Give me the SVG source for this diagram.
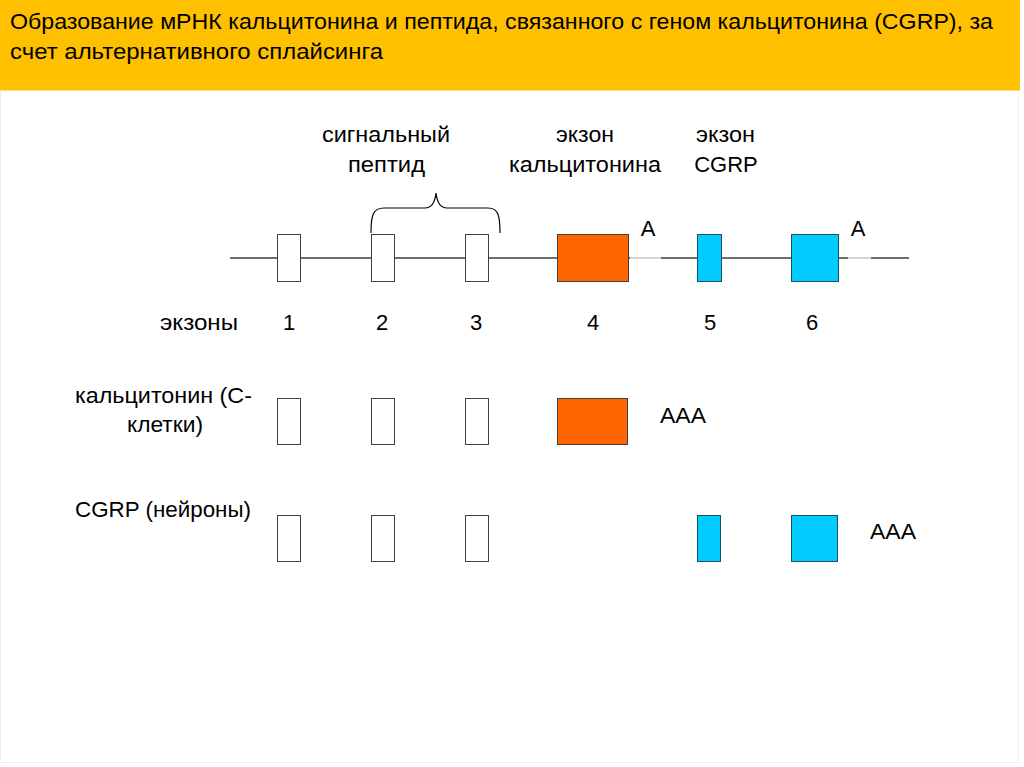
<svg xmlns="http://www.w3.org/2000/svg" width="1024" height="767" viewBox="0 0 1024 767">
<style>
.t{font-family:"Liberation Sans",Arial,sans-serif;font-size:22px;fill:#000}
.h{font-family:"Liberation Sans",Arial,sans-serif;font-size:22px;fill:#000}
.a{font-family:"Liberation Sans",Arial,sans-serif;font-size:22px;fill:#000}
.w{fill:#fff;stroke:#404040;stroke-width:1}
.o{fill:#ff6600;stroke:#404040;stroke-width:1}
.b{fill:#00ccff;stroke:#1f4f5f;stroke-width:1}
</style>
<rect x="0" y="0" width="1024" height="767" fill="#fff"/>
<rect x="0.5" y="0.5" width="1018" height="762" fill="none" stroke="#f0f0f0"/>
<g id="header">
<rect x="0" y="0" width="1020" height="90" fill="#ffc000"/>
<line x1="0" y1="90.5" x2="1020" y2="90.5" stroke="#ffe08a" stroke-width="1"/>
<text class="h" x="10" y="29" textLength="983" lengthAdjust="spacingAndGlyphs">Образование мРНК кальцитонина и пептида, связанного с геном кальцитонина (CGRP), за</text>
<text class="h" x="10" y="59" textLength="373" lengthAdjust="spacingAndGlyphs">счет альтернативного сплайсинга</text>
</g>
<g id="connectors">
<line x1="230" y1="258" x2="630" y2="258" stroke="#404040" stroke-width="1.5"/>
<line x1="630" y1="258" x2="661" y2="258" stroke="#c8c8c8" stroke-width="1.5"/>
<line x1="661" y1="258" x2="848" y2="258" stroke="#404040" stroke-width="1.5"/>
<line x1="848" y1="258" x2="871" y2="258" stroke="#c8c8c8" stroke-width="1.5"/>
<line x1="871" y1="258" x2="909" y2="258" stroke="#404040" stroke-width="1.5"/>
<path d="M371,233 C371,215 373,208 384,208 L425,208 C432,208 435,202 436,193 C437,202 440,208 447,208 L488,208 C498,208 500,215 500,233" fill="none" stroke="#000" stroke-width="1.2"/>
</g>
<g id="labels-top">
<text class="t" x="322" y="142" textLength="128" lengthAdjust="spacingAndGlyphs">сигнальный</text>
<text class="t" x="348" y="172" textLength="77" lengthAdjust="spacingAndGlyphs">пептид</text>
<text class="t" x="556" y="142" textLength="58" lengthAdjust="spacingAndGlyphs">экзон</text>
<text class="t" x="509" y="172" textLength="152" lengthAdjust="spacingAndGlyphs">кальцитонина</text>
<text class="t" x="696" y="142" textLength="59" lengthAdjust="spacingAndGlyphs">экзон</text>
<text class="t" x="726" y="172" text-anchor="middle">CGRP</text>
<text class="a" x="648" y="236" text-anchor="middle">A</text>
<text class="a" x="858" y="236" text-anchor="middle">A</text>
</g>
<g id="gene">
<rect class="w" x="277.5" y="234.5" width="23" height="47"/>
<rect class="w" x="371.5" y="234.5" width="23" height="47"/>
<rect class="w" x="465.5" y="234.5" width="23" height="47"/>
<rect class="o" x="557.5" y="234.5" width="71" height="47"/>
<rect class="b" x="697.5" y="234.5" width="24" height="47"/>
<rect class="b" x="791.5" y="234.5" width="47" height="47"/>
</g>
<g id="exon-numbers">
<text class="t" x="160" y="330" textLength="78" lengthAdjust="spacingAndGlyphs">экзоны</text>
<text class="t" x="289" y="330" text-anchor="middle">1</text>
<text class="t" x="382" y="330" text-anchor="middle">2</text>
<text class="t" x="476" y="330" text-anchor="middle">3</text>
<text class="t" x="593" y="330" text-anchor="middle">4</text>
<text class="t" x="710" y="330" text-anchor="middle">5</text>
<text class="t" x="812" y="330" text-anchor="middle">6</text>
</g>
<g id="calcitonin-mrna">
<text class="t" x="75" y="403" textLength="177" lengthAdjust="spacingAndGlyphs">кальцитонин (С-</text>
<text class="t" x="127" y="432" textLength="76" lengthAdjust="spacingAndGlyphs">клетки)</text>
<rect class="w" x="277.5" y="398.5" width="23" height="46"/>
<rect class="w" x="371.5" y="398.5" width="23" height="46"/>
<rect class="w" x="465.5" y="398.5" width="23" height="46"/>
<rect class="o" x="557.5" y="398.5" width="70" height="46"/>
<text class="a" x="660" y="423" textLength="46" lengthAdjust="spacingAndGlyphs">AAA</text>
</g>
<g id="cgrp-mrna">
<text class="t" x="75" y="517" textLength="176" lengthAdjust="spacingAndGlyphs">CGRP (нейроны)</text>
<rect class="w" x="277.5" y="515.5" width="23" height="46"/>
<rect class="w" x="371.5" y="515.5" width="23" height="46"/>
<rect class="w" x="465.5" y="515.5" width="23" height="46"/>
<rect class="b" x="697.5" y="515.5" width="23" height="46"/>
<rect class="b" x="791.5" y="515.5" width="46" height="46"/>
<text class="a" x="870" y="539" textLength="46" lengthAdjust="spacingAndGlyphs">AAA</text>
</g>
</svg>
